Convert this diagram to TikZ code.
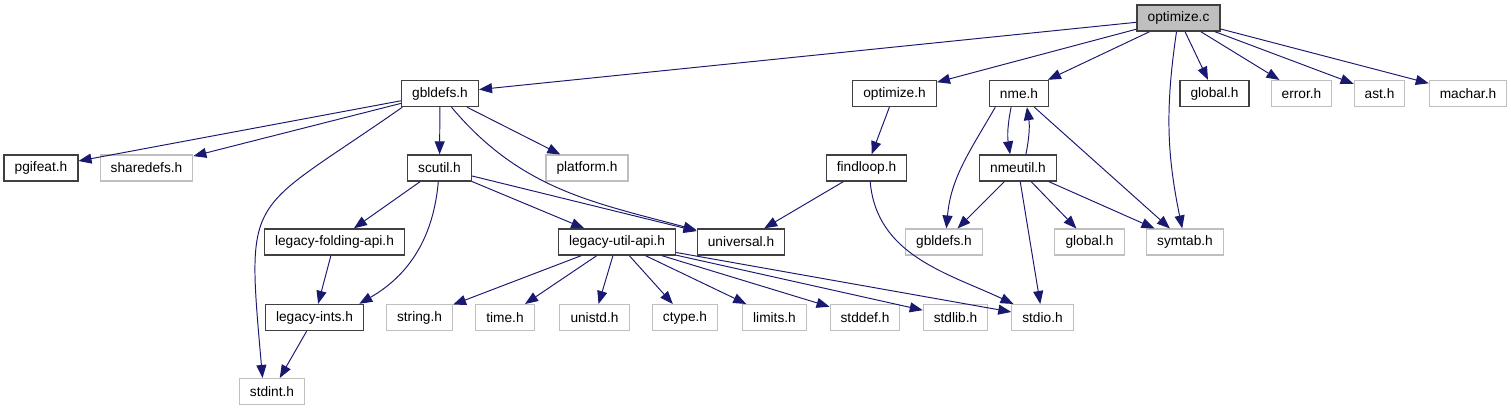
\documentclass[tikz,border=0pt]{standalone}
\usepackage{fontspec}
\setmainfont{Liberation Sans}
\usetikzlibrary{arrows.meta}

\definecolor{edgeblue}{HTML}{191970}
\tikzset{
  file/.style={draw=black!75, line width=0.8pt, minimum height=0.52cm,
    inner xsep=6pt, inner ysep=0pt, font=\fontsize{7.8}{9}\selectfont},
  extfile/.style={file, draw=black!25, line width=0.6pt},
  incl/.style={-{Triangle[length=7.4pt,width=5.7pt]}, draw=edgeblue, line width=0.55pt},
}

\begin{document}
\begin{tikzpicture}[x=0.02cm, y=0.02cm]
  \useasboundingbox (0,0) rectangle (1511,-411);

  %% Row 0: the source file
  \node[file, fill=black!25] (optc) at (1178.5,-18) {optimize.c};

  %% Row 1
  \node[file]    (gbl)   at (440,-93.5)    {gbldefs.h};
  \node[file]    (opth)  at (894.5,-93.5)  {optimize.h};
  \node[file]    (nme)   at (1019,-93.5)   {nme.h};
  \node[file]    (glob)  at (1214.5,-93.5) {global.h};
  \node[extfile] (err)   at (1301.5,-93.5) {error.h};
  \node[extfile] (ast)   at (1379.5,-93.5) {ast.h};
  \node[extfile] (mach)  at (1468,-93.5)   {machar.h};

  %% Row 2
  \node[file]    (pgi)   at (41,-168)      {pgifeat.h};
  \node[extfile] (shrd)  at (146.5,-168)   {sharedefs.h};
  \node[file]    (scut)  at (439.5,-168)   {scutil.h};
  \node[extfile] (plat)  at (587,-168)     {platform.h};
  \node[file]    (findl) at (866.5,-168)   {findloop.h};
  \node[file]    (nmeu)  at (1018,-168)    {nmeutil.h};

  %% Row 3
  \node[file]    (lfold) at (334.5,-242)   {legacy-folding-api.h};
  \node[file]    (luapi) at (617,-242)     {legacy-util-api.h};
  \node[file]    (univ)  at (741,-242)     {universal.h};
  \node[extfile] (gblx)  at (944,-242)     {gbldefs.h};
  \node[extfile] (globx) at (1089.5,-242)  {global.h};
  \node[extfile] (sym)   at (1185,-242)    {symtab.h};

  %% Row 4
  \node[file]    (lints) at (314.5,-317.5) {legacy-ints.h};
  \node[extfile] (str)   at (419.5,-317.5) {string.h};
  \node[extfile] (time)  at (505,-317.5)   {time.h};
  \node[extfile] (unis)  at (594.5,-317.5) {unistd.h};
  \node[extfile] (ctyp)  at (685,-317.5)   {ctype.h};
  \node[extfile] (lim)   at (774.5,-317.5) {limits.h};
  \node[extfile] (sdef)  at (865,-317.5)   {stddef.h};
  \node[extfile] (slib)  at (955.5,-317.5) {stdlib.h};
  \node[extfile] (sio)   at (1042.5,-317.5) {stdio.h};

  %% Row 5
  \node[extfile] (sint)  at (272,-391.5)   {stdint.h};

  % optimize.c includes
  \draw[incl] (optc) -- (gbl);
  \draw[incl] (optc) -- (opth);
  \draw[incl] (optc) -- (nme);
  \draw[incl] (optc) to[bend right=10] (sym);
  \draw[incl] (optc) -- (glob);
  \draw[incl] (optc) -- (err);
  \draw[incl] (optc) -- (ast);
  \draw[incl] (optc) -- (mach);

  % gbldefs.h includes
  \draw[incl] (gbl) -- (pgi);
  \draw[incl] (gbl) -- (shrd);
  \draw[incl] (gbl) -- (scut);
  \draw[incl] (gbl) -- (plat);
  \draw[incl] (gbl) to[out=-50, in=165] (univ);
  \draw[incl] (gbl.-160) to[out=-145, in=95, looseness=1.6] (sint.125);

  % scutil.h includes
  \draw[incl] (scut) -- (lfold);
  \draw[incl] (scut.-95) to[out=-95, in=30] (lints.17);
  \draw[incl] (scut) -- (luapi);
  \draw[incl] (scut) -- (univ);
  \draw[incl] (lfold) -- (lints);
  \draw[incl] (lints) -- (sint);

  % legacy-util-api.h includes
  \foreach \hdr in {str,time,unis,ctyp,lim,sdef,slib,sio}
    \draw[incl] (luapi) -- (\hdr);

  % optimize.h and findloop.h
  \draw[incl] (opth) -- (findl);
  \draw[incl] (findl) -- (univ);
  \draw[incl] (findl.-75) to[out=-85, in=155] (sio);

  % nme.h and nmeutil.h
  \draw[incl] (nme.-120) to[bend right=10] (nmeu.120);
  \draw[incl] (nmeu.60) to[bend right=10] (nme.-60);
  \draw[incl] (nme.-150) to[out=-120, in=85] (gblx.80);
  \draw[incl] (nme) -- (sym);
  \draw[incl] (nmeu) -- (gblx);
  \draw[incl] (nmeu) -- (globx);
  \draw[incl] (nmeu) -- (sym);
  \draw[incl] (nmeu) -- (sio);
\end{tikzpicture}
\end{document}
